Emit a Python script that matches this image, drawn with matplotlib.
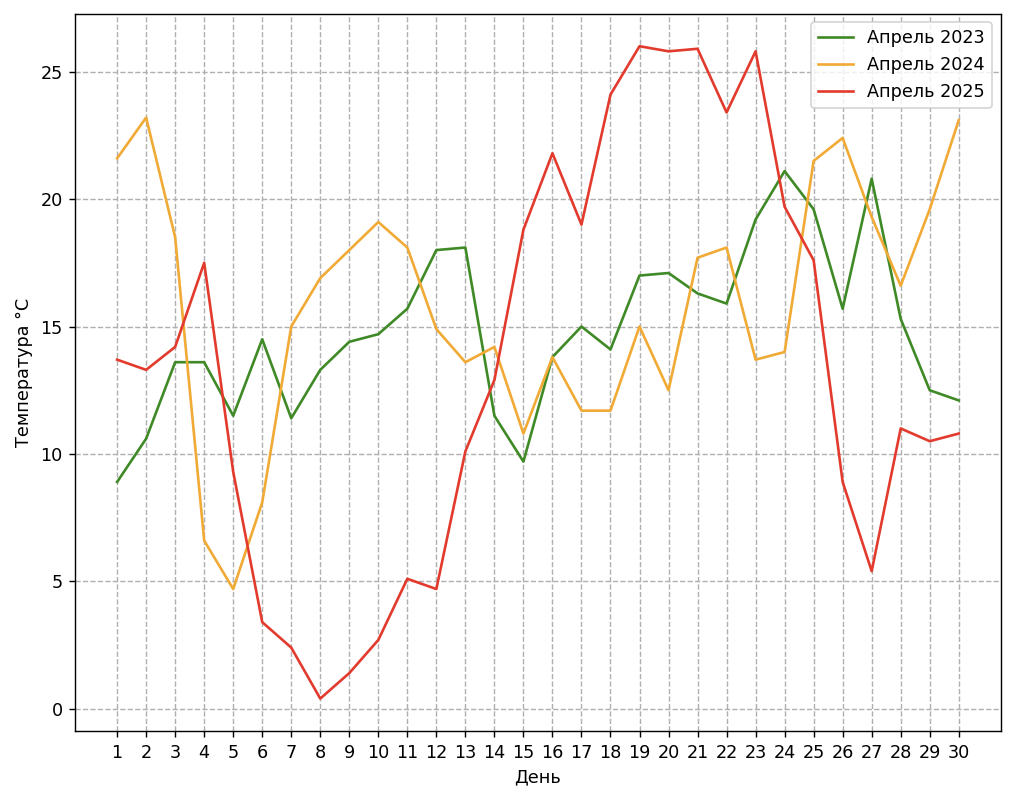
import matplotlib
matplotlib.use("Agg")
import matplotlib.pyplot as plt

days = list(range(1, 31))

temp_2023 = [8.9, 10.6, 13.6, 13.6, 11.5, 14.5, 11.4, 13.3, 14.4, 14.7,
             15.7, 18.0, 18.1, 11.5, 9.7, 13.8, 15.0, 14.1, 17.0, 17.1,
             16.3, 15.9, 19.2, 21.1, 19.6, 15.7, 20.8, 15.3, 12.5, 12.1]

temp_2024 = [21.6, 23.2, 18.5, 6.6, 4.7, 8.1, 15.0, 16.9, 18.0, 19.1,
             18.1, 14.9, 13.6, 14.2, 10.8, 13.8, 11.7, 11.7, 15.0, 12.5,
             17.7, 18.1, 13.7, 14.0, 21.5, 22.4, 19.3, 16.6, 19.6, 23.1]

temp_2025 = [13.7, 13.3, 14.2, 17.5, 9.3, 3.4, 2.4, 0.4, 1.4, 2.7,
             5.1, 4.7, 10.1, 12.9, 18.8, 21.8, 19.0, 24.1, 26.0, 25.8,
             25.9, 23.4, 25.8, 19.7, 17.6, 8.9, 5.4, 11.0, 10.5, 10.8]

# 8" wide figure scaled up to 1014 px
dpi = 1014 / 8
fig, ax = plt.subplots(figsize=(8, 800 / dpi), dpi=dpi)

ax.plot(days, temp_2023, color='#3f8a26', label='Апрель 2023')
ax.plot(days, temp_2024, color='#f0aa35', label='Апрель 2024')
ax.plot(days, temp_2025, color='#e23b2e', label='Апрель 2025')

ax.set_xticks(days)
ax.set_xlabel('День')
ax.set_ylabel('Температура °C')
ax.grid(True, linestyle='--', color='#b0b0b0')
ax.legend(loc='upper right')

fig.subplots_adjust(left=0.074, right=0.987, top=0.983, bottom=0.086)
fig.savefig('out.png')
